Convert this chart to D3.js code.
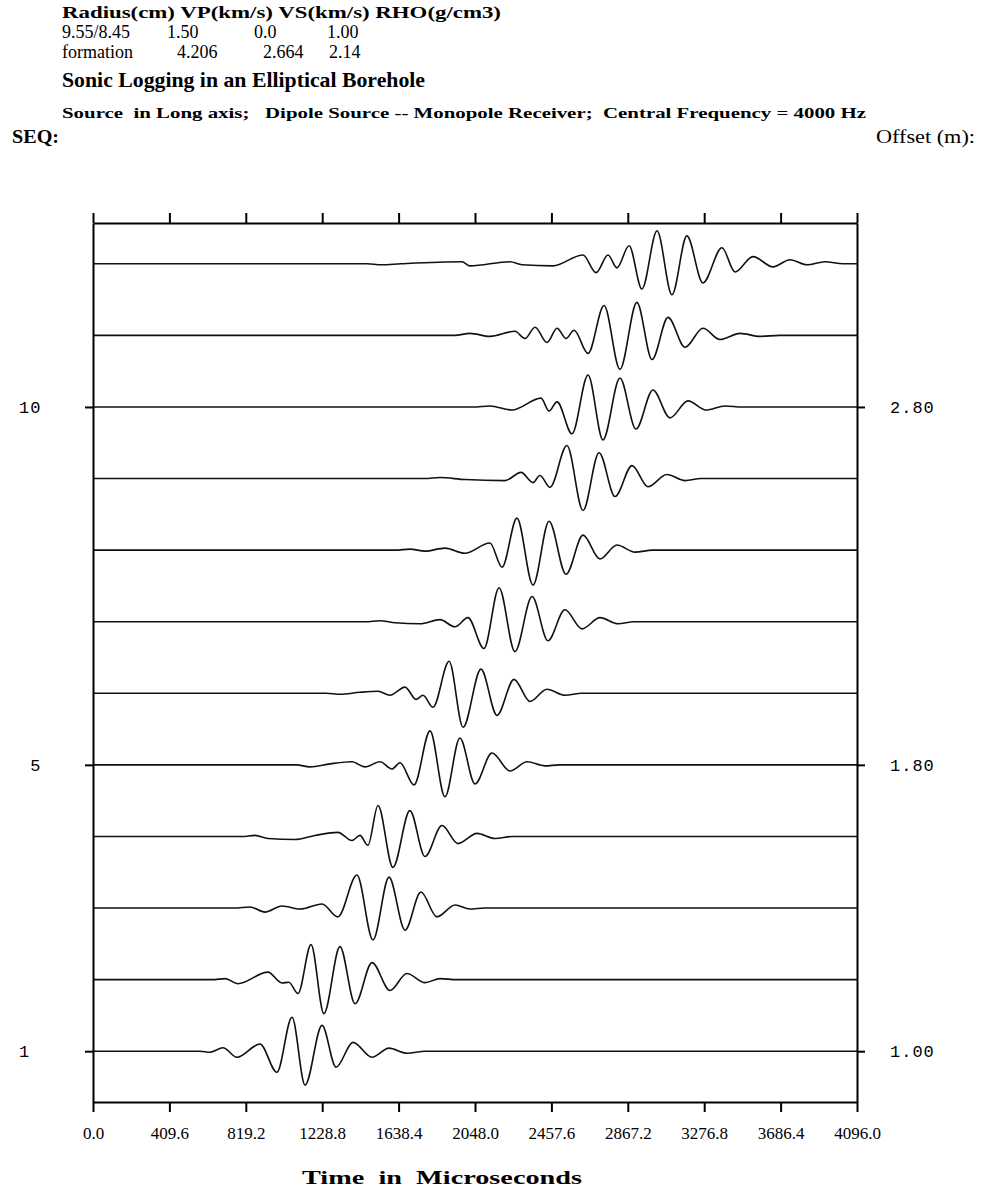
<!DOCTYPE html>
<html>
<head>
<meta charset="utf-8">
<script src="https://cdn.jsdelivr.net/npm/d3@7"></script>
<style>
body { margin: 0; background: #fff; }
svg { display: block; }
</style>
</head>
<body>
<svg id="chart" width="984" height="1193"></svg>
<script>
// ---- data ----
var timeTicks = [0, 409.6, 819.2, 1228.8, 1638.4, 2048, 2457.6, 2867.2, 3276.8, 3686.4, 4096];
var timeLabels = ["0.0", "409.6", "819.2", "1228.8", "1638.4", "2048.0", "2457.6", "2867.2", "3276.8", "3686.4", "4096.0"];
var seqNumbers = [1, 2, 3, 4, 5, 6, 7, 8, 9, 10, 11, 12];
var seqTicks = [1, 5, 10];
var seqLabels = ["1", " 5", "10"];
var offsetLabels = ["1.00", "1.80", "2.80"];

var headerLine = "Radius(cm) VP(km/s) VS(km/s) RHO(g/cm3)";
var fluidRow = ["9.55/8.45", "1.50", "0.0", "1.00"];
var formationRow = ["formation", "4.206", "2.664", "2.14"];

// each trace: [time (microseconds), relative amplitude] at the turning points
var trace01 = [[0, 0], [574, 0], [627, -0.03], [697, 0.1], [772, -0.18], [895, 0.21], [986, -0.62], [1067, 1.0], [1137, -1.0], [1228, 0.76], [1303, -0.47], [1394, 0.26], [1496, -0.18], [1587, 0.09], [1683, -0.06], [1780, 0], [4096, 0]];
var trace02 = [[0, 0], [640, 0], [708, 0.03], [777, -0.12], [938, 0.22], [1013, -0.1], [1050, -0.08], [1099, -0.41], [1169, 1.03], [1238, -1.0], [1324, 0.97], [1405, -0.71], [1496, 0.5], [1592, -0.32], [1683, 0.18], [1780, -0.09], [1860, 0.03], [1950, 0], [4096, 0]];
var trace03 = [[0, 0], [760, 0], [842, 0.03], [922, -0.12], [1013, 0.06], [1110, -0.03], [1228, 0.12], [1313, -0.26], [1415, 0.97], [1501, -0.94], [1587, 0.91], [1673, -0.65], [1758, 0.47], [1844, -0.26], [1941, 0.09], [2021, -0.03], [2100, 0], [4096, 0]];
var trace04 = [[0, 0], [800, 0], [869, 0.03], [938, -0.06], [1083, -0.09], [1190, 0.03], [1313, 0.12], [1388, -0.12], [1431, 0.03], [1474, -0.26], [1528, 0.91], [1608, -0.91], [1699, 0.76], [1780, -0.59], [1871, 0.32], [1957, -0.21], [2059, 0.09], [2155, -0.06], [2250, 0], [4096, 0]];
var trace05 = [[0, 0], [1090, 0], [1163, -0.06], [1271, 0.03], [1388, 0.09], [1458, -0.06], [1539, 0.09], [1603, -0.12], [1646, 0.06], [1721, -0.59], [1807, 1.0], [1887, -0.94], [1967, 0.79], [2048, -0.56], [2139, 0.35], [2236, -0.18], [2327, 0.09], [2423, -0.03], [2500, 0], [4096, 0]];
var trace06 = [[0, 0], [1250, 0], [1324, -0.03], [1431, 0.03], [1528, 0.06], [1592, -0.06], [1673, 0.18], [1732, -0.18], [1769, -0.06], [1823, -0.41], [1909, 0.94], [1984, -1.0], [2080, 0.71], [2166, -0.65], [2257, 0.41], [2343, -0.24], [2434, 0.12], [2530, -0.06], [2620, 0], [4096, 0]];
var trace07 = [[0, 0], [1460, 0], [1539, 0.03], [1619, -0.03], [1753, -0.06], [1860, 0.06], [1941, -0.15], [2010, 0.12], [2096, -0.79], [2177, 1.0], [2262, -0.88], [2354, 0.74], [2439, -0.56], [2530, 0.35], [2622, -0.21], [2718, 0.12], [2815, -0.06], [2900, 0], [4096, 0]];
var trace08 = [[0, 0], [1620, 0], [1700, 0.03], [1780, -0.03], [1887, 0.06], [1994, -0.09], [2128, 0.21], [2193, -0.5], [2273, 0.94], [2359, -1.03], [2445, 0.85], [2536, -0.71], [2627, 0.44], [2718, -0.26], [2809, 0.15], [2906, -0.06], [3000, 0], [4096, 0]];
var trace09 = [[0, 0], [1780, 0], [1860, 0.03], [1994, -0.03], [2209, -0.06], [2295, 0.18], [2359, -0.12], [2396, 0.09], [2450, -0.26], [2541, 0.97], [2627, -0.94], [2713, 0.76], [2799, -0.53], [2890, 0.38], [2975, -0.24], [3077, 0.12], [3174, -0.06], [3260, 0], [4096, 0]];
var trace10 = [[0, 0], [2040, 0], [2128, 0.03], [2246, -0.09], [2402, 0.26], [2445, -0.12], [2488, 0.15], [2568, -0.79], [2654, 0.94], [2734, -0.97], [2825, 0.85], [2911, -0.65], [3002, 0.5], [3093, -0.32], [3190, 0.18], [3286, -0.09], [3388, 0.03], [3480, 0], [4096, 0]];
var trace11 = [[0, 0], [1940, 0], [2021, 0.06], [2128, -0.03], [2262, 0.12], [2316, -0.09], [2370, 0.24], [2434, -0.21], [2488, 0.21], [2536, -0.09], [2579, 0.15], [2654, -0.53], [2740, 0.88], [2825, -1.0], [2916, 0.97], [2997, -0.71], [3083, 0.53], [3174, -0.35], [3270, 0.21], [3361, -0.12], [3469, 0.06], [3576, -0.03], [3680, 0], [4096, 0]];
var trace12 = [[0, 0], [1470, 0], [1544, -0.03], [1650, 0], [1978, 0.06], [2021, -0.06], [2236, 0.06], [2300, -0.03], [2466, -0.06], [2627, 0.26], [2697, -0.26], [2761, 0.26], [2809, -0.12], [2874, 0.53], [2943, -0.74], [3024, 0.97], [3104, -0.91], [3184, 0.82], [3270, -0.56], [3372, 0.47], [3442, -0.24], [3538, 0.21], [3646, -0.09], [3737, 0.12], [3828, -0.03], [3924, 0.06], [4021, 0], [4096, 0]];

var traces = [trace01, trace02, trace03, trace04, trace05, trace06, trace07, trace08, trace09, trace10, trace11, trace12];

// ---- drawing ----
var serif = "'Liberation Serif', 'Times New Roman', Times, serif";
var mono = "'Liberation Mono', 'Courier New', Courier, monospace";

var svg = d3.select("svg#chart"),
    margin = { top: 223, right: 127, bottom: 91, left: 93 },
    width = +svg.attr("width") - margin.left - margin.right,
    height = +svg.attr("height") - margin.top - margin.bottom,
    g = svg.append("g").attr("transform", "translate(" + margin.left + "," + margin.top + ")");

var x = d3.scaleLinear().domain([0, 4096]).range([0, width]);
var y = d3.scaleLinear().domain([0.29, 12.57]).range([height, 0]);
var ampToSeq = 0.475; // one unit of amplitude in trace spacings

// header block
svg.append("text")
    .attr("x", 62).attr("y", 18)
    .attr("font-family", serif).attr("font-weight", "bold").attr("font-size", 17)
    .attr("textLength", 439).attr("lengthAdjust", "spacingAndGlyphs")
    .text(headerLine);

var colX = [[62, 167, 254, 327], [62, 177, 263, 329]];
[fluidRow, formationRow].forEach(function(row, r) {
    svg.append("g").selectAll("text")
        .data(row)
        .enter()
        .append("text")
        .attr("x", function(d, i) { return colX[r][i]; })
        .attr("y", 38 + r * 20)
        .attr("font-family", serif).attr("font-size", 18)
        .text(function(d) { return d; });
});

svg.append("text")
    .attr("x", 62).attr("y", 87)
    .attr("font-family", serif).attr("font-weight", "bold").attr("font-size", 21)
    .attr("textLength", 363).attr("lengthAdjust", "spacingAndGlyphs")
    .text("Sonic Logging in an Elliptical Borehole");

svg.append("text")
    .attr("x", 62).attr("y", 118)
    .attr("font-family", serif).attr("font-weight", "bold").attr("font-size", 14)
    .attr("textLength", 804).attr("lengthAdjust", "spacingAndGlyphs")
    .style("white-space", "pre")
    .text("Source  in Long axis;   Dipole Source -- Monopole Receiver;  Central Frequency = 4000 Hz");

svg.append("text")
    .attr("x", 12).attr("y", 143)
    .attr("font-family", serif).attr("font-weight", "bold").attr("font-size", 18)
    .attr("textLength", 47).attr("lengthAdjust", "spacingAndGlyphs")
    .text("SEQ:");

svg.append("text")
    .attr("x", 876).attr("y", 143)
    .attr("font-family", serif).attr("font-size", 18)
    .attr("textLength", 99).attr("lengthAdjust", "spacingAndGlyphs")
    .text("Offset (m):");

// traces
g.append("g")
    .attr("class", "traces")
    .selectAll("path")
    .data(traces)
    .enter()
    .append("path")
    .attr("fill", "none")
    .attr("stroke", "#111")
    .attr("stroke-width", 1.6)
    .attr("d", function(tr, i) {
        var seq = seqNumbers[i];
        return d3.line()
            .x(function(d) { return x(d[0]); })
            .y(function(d) { return y(seq + d[1] * ampToSeq); })
            .curve(d3.curveMonotoneX)(tr);
    });

// frame and ticks
function styleAxis(sel) {
    sel.select(".domain").attr("stroke", "#000").attr("stroke-width", 2);
    sel.selectAll(".tick line").attr("stroke", "#000").attr("stroke-width", 2);
}

g.append("g")
    .attr("class", "axis")
    .attr("transform", "translate(0," + height + ")")
    .call(d3.axisBottom(x)
        .tickValues(timeTicks)
        .tickFormat(function(d, i) { return timeLabels[i]; })
        .tickSize(10).tickSizeOuter(0).tickPadding(15))
    .call(styleAxis)
    .call(function(a) {
        a.selectAll("text")
            .attr("font-family", serif)
            .attr("font-size", 17)
            .attr("fill", "#000");
    });

g.append("g")
    .attr("class", "axis")
    .call(d3.axisTop(x).tickValues(timeTicks).tickFormat("").tickSize(10).tickSizeOuter(0))
    .call(styleAxis);

g.append("g")
    .attr("class", "axis")
    .call(d3.axisLeft(y).tickValues(seqTicks).tickFormat("").tickSize(8).tickSizeOuter(0))
    .call(styleAxis);

g.append("g")
    .attr("class", "axis")
    .attr("transform", "translate(" + width + ",0)")
    .call(d3.axisRight(y).tickValues(seqTicks).tickFormat("").tickSize(8).tickSizeOuter(0))
    .call(styleAxis);

// trace number and offset labels
svg.append("g").selectAll("text")
    .data(seqTicks)
    .enter()
    .append("text")
    .attr("x", 19)
    .attr("y", function(d) { return margin.top + y(d) + 6; })
    .attr("font-family", mono).attr("font-size", 17).attr("letter-spacing", 1)
    .style("white-space", "pre")
    .text(function(d, i) { return seqLabels[i]; });

svg.append("g").selectAll("text")
    .data(seqTicks)
    .enter()
    .append("text")
    .attr("x", 890)
    .attr("y", function(d) { return margin.top + y(d) + 6; })
    .attr("font-family", mono).attr("font-size", 17).attr("letter-spacing", 1)
    .text(function(d, i) { return offsetLabels[i]; });

svg.append("text")
    .attr("x", 442).attr("y", 1184)
    .attr("text-anchor", "middle")
    .attr("font-family", serif).attr("font-weight", "bold").attr("font-size", 19)
    .attr("textLength", 280).attr("lengthAdjust", "spacingAndGlyphs")
    .style("white-space", "pre")
    .text("Time  in  Microseconds");
</script>
</body>
</html>
